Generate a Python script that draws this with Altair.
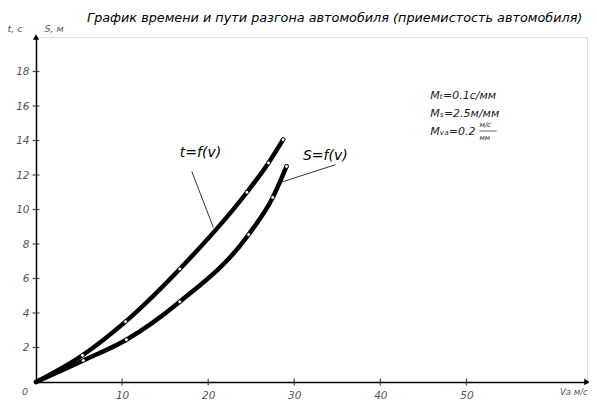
import altair as alt
import pandas as pd

# data
v_t = [0, 5.4, 10.4, 16.7, 24.5, 27.0, 28.7]
t_vals = [0, 1.55, 3.5, 6.55, 11.0, 12.7, 14.05]
v_s = [0, 5.5, 10.5, 16.7, 24.7, 27.5, 29.1]
s_vals = [0, 1.25, 2.45, 4.65, 8.55, 10.7, 12.5]
x_ticks = [10, 20, 30, 40, 50]
y_ticks = [2, 4, 6, 8, 10, 12, 14, 16, 18]

X_MAX, Y_MAX = 64, 20

rows = []
for v, t in zip(v_t, t_vals):
    rows.append({"v": v, "val": t, "series": "t"})
for v, s in zip(v_s, s_vals):
    rows.append({"v": v, "val": s, "series": "S"})
df = pd.DataFrame(rows)

xs = alt.Scale(domain=[0, X_MAX], nice=False, zero=True)
ys = alt.Scale(domain=[0, Y_MAX], nice=False, zero=True)
FONT = "DejaVu Sans"
GRAY = "#555555"

base = alt.Chart(df)

curves = base.mark_line(interpolate="monotone", color="black", strokeWidth=4.5, strokeCap="round").encode(
    x=alt.X("v:Q", scale=xs, axis=alt.Axis(values=x_ticks, grid=False, domainColor="black", domainWidth=1.5,
                                            ticks=False, tickSize=0, labelColor=GRAY, labelFont=FONT,
                                            labelFontStyle="italic", labelFontSize=10.5, labelPadding=8, title=None)),
    y=alt.Y("val:Q", scale=ys, axis=alt.Axis(values=y_ticks, grid=False, domainColor="black", domainWidth=1.5,
                                              ticks=False, tickSize=0, labelColor=GRAY, labelFont=FONT,
                                              labelFontStyle="italic", labelFontSize=10.5, labelPadding=7, title=None)),
    detail="series:N",
)

pts = base.transform_filter("datum.v > 0").mark_point(filled=True, fill="white", stroke="black", strokeWidth=0.8, size=14, opacity=1).encode(
    x=alt.X("v:Q", scale=xs), y=alt.Y("val:Q", scale=ys))

# crossing ticks
xt = alt.Chart(pd.DataFrame({"v": x_ticks, "y0": [0] * len(x_ticks)})).mark_tick(
    color="black", thickness=1.2, size=7, orient="vertical").encode(
    x=alt.X("v:Q", scale=xs), y=alt.Y("y0:Q", scale=ys))
yt = alt.Chart(pd.DataFrame({"y": y_ticks, "x0": [0] * len(y_ticks)})).mark_tick(
    color="black", thickness=1.2, size=7, orient="horizontal").encode(
    x=alt.X("x0:Q", scale=xs), y=alt.Y("y:Q", scale=ys))

# arrowheads
arr = alt.Chart(pd.DataFrame({"x": [X_MAX, 0], "y": [0, Y_MAX], "shape": ["triangle-right", "triangle-up"]})).mark_point(
    filled=True, color="black", size=40, opacity=1).encode(
    x=alt.X("x:Q", scale=xs), y=alt.Y("y:Q", scale=ys), shape=alt.Shape("shape:N", scale=None))

# leader lines
lead = alt.Chart(pd.DataFrame({"x": [18.1, 34.8], "y": [12.2, 12.6], "x2": [20.6, 28.6], "y2": [8.96, 11.6]})).mark_rule(
    color="#333333", strokeWidth=1).encode(
    x=alt.X("x:Q", scale=xs), y=alt.Y("y:Q", scale=ys), x2="x2:Q", y2="y2:Q")

curve_labels = alt.Chart(pd.DataFrame({"x": [19.1, 33.6], "y": [13.25, 13.1], "txt": ["t=f(v)", "S=f(v)"]})).mark_text(
    font=FONT, fontStyle="italic", fontSize=14, color="black").encode(
    x=alt.X("x:Q", scale=xs), y=alt.Y("y:Q", scale=ys), text="txt:N")

# scale notes
notes = alt.Chart(pd.DataFrame({"x": [45.8, 45.8, 45.8], "y": [16.6, 15.55, 14.5],
                                "txt": ["Mₜ=0.1с/мм", "Mₛ=2.5м/мм", "Mᵥₐ=0.2"]})).mark_text(
    font=FONT, fontStyle="italic", fontSize=11, color="#222222", align="left").encode(
    x=alt.X("x:Q", scale=xs), y=alt.Y("y:Q", scale=ys), text="txt:N")
frac = alt.Chart(pd.DataFrame({"x": [51.5, 51.5], "y": [14.9, 14.15], "txt": ["м/с", "мм"]})).mark_text(
    font=FONT, fontStyle="italic", fontSize=7, color="#222222", align="left").encode(
    x=alt.X("x:Q", scale=xs), y=alt.Y("y:Q", scale=ys), text="txt:N")
frac_bar = alt.Chart(pd.DataFrame({"x": [51.5], "x2": [53.5], "y": [14.55]})).mark_rule(color="#222222", strokeWidth=0.7).encode(
    x=alt.X("x:Q", scale=xs), x2="x2:Q", y=alt.Y("y:Q", scale=ys))

# axis titles and origin
parts = []
for x, y, dx, dy, txt, al, fs in [(0, Y_MAX, -21, -8, "t, с", "center", 9.5), (0, Y_MAX, 18, -8, "S, м", "center", 9.5),
                                  (X_MAX, 0, -27, 10, "Vа м/с", "left", 8.5), (0, 0, -11, 10, "0", "center", 9.5)]:
    parts.append(alt.Chart(pd.DataFrame({"x": [x], "y": [y], "txt": [txt]})).mark_text(
        font=FONT, fontStyle="italic", fontSize=fs, color=GRAY, dx=dx, dy=dy, align=al).encode(
        x=alt.X("x:Q", scale=xs), y=alt.Y("y:Q", scale=ys), text="txt:N"))

title = alt.Chart(pd.DataFrame({"txt": ["График времени и пути разгона автомобиля (приемистость автомобиля)"]})).mark_text(
    font=FONT, fontStyle="italic", fontSize=12.8, color="black", align="left", baseline="middle").encode(
    x=alt.value(51), y=alt.value(-19), text="txt:N")

chart = alt.layer(curves, pts, xt, yt, arr, lead, curve_labels, notes, frac, frac_bar, title, *parts).properties(
    width=551, height=345,
    padding={"left": 28, "top": 29, "right": 2, "bottom": 18},
    autosize="none",
).configure_view(stroke=None).configure(background="white")

chart.save("out.html", embed_options={"renderer": "svg", "actions": False})
